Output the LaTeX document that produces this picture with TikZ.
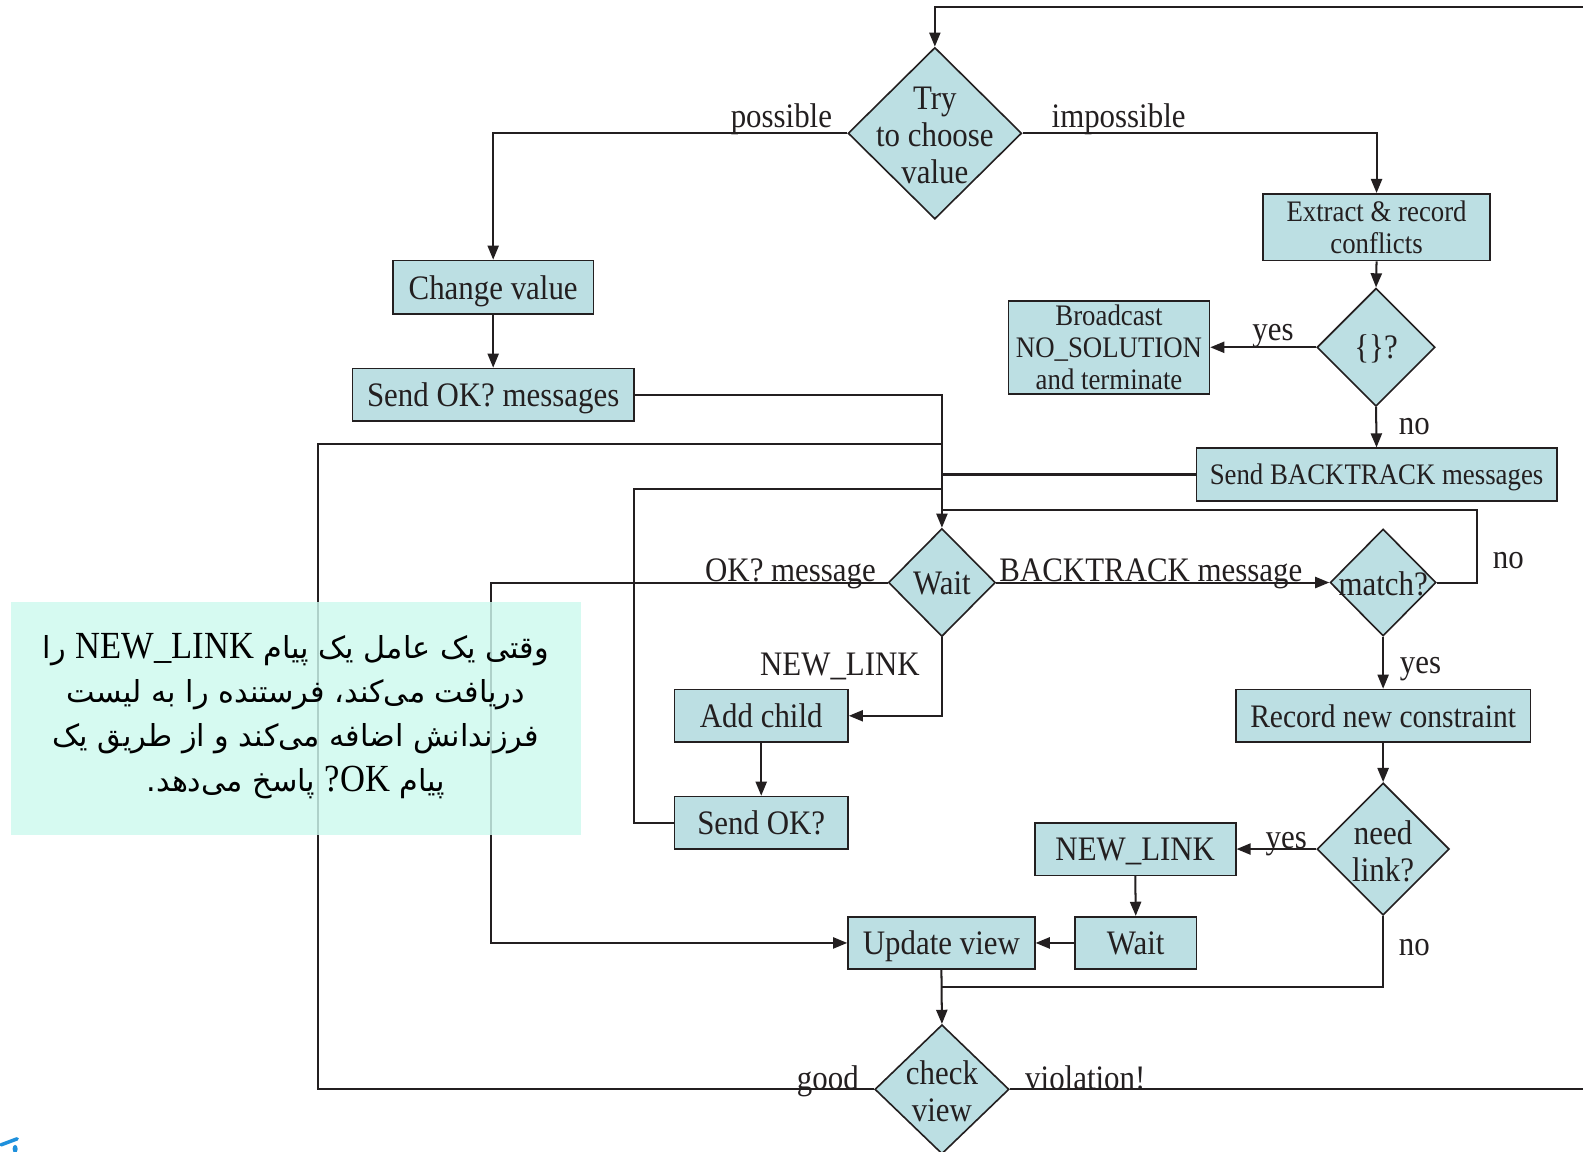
\documentclass[tikz,border=0pt]{standalone}
\usepackage{fontspec}
\setmainfont{Liberation Serif}[FakeStretch=0.9]
\newfontfamily\arabicfont[Script=Arabic]{DejaVu Sans}
\TeXXeTstate=1
\usetikzlibrary{arrows.meta,shapes.geometric}
\definecolor{boxc}{RGB}{188,223,227}
\definecolor{linec}{RGB}{35,31,32}
\definecolor{mint}{RGB}{205,249,239}
\definecolor{bluemark}{RGB}{30,144,220}
\newcommand\latinp{\rmfamily\fontsize{38}{44}\selectfont}
\tikzset{
 box/.style={draw=linec, fill=boxc, line width=1.6pt, inner sep=0pt, align=center, text=linec, text depth=0pt},
 dia/.style={diamond, draw=linec, fill=boxc, line width=1.6pt, inner sep=0pt},
 dtext/.style={align=center, inner sep=0pt, text=linec},
 conn/.style={draw=linec, line width=2pt},
 arr/.style={conn, -{Triangle[length=14pt,width=11pt]}},
 lbl/.style={inner sep=0pt, anchor=base, text=linec},
 smallf/.style={font=\fontsize{29.5}{31.5}\selectfont},
}
\begin{document}
\begin{tikzpicture}[x=1pt,y=-1pt,font=\fontsize{34}{37}\selectfont]
\useasboundingbox (0,0) rectangle (1568,1141);
\fill[white] (0,0) rectangle (1568,1141);

% decisions
\node[dia, minimum width=172, minimum height=170] (try) at (926,132) {};
\node[dtext] (trytx) at (926,134) {Try\\to choose\\value};
\node[dia, minimum width=117, minimum height=117] (empt) at (1363,344) {};
\node[dtext] (empttx) at (1363,346) {\{\}?};
\node[dia, minimum width=106, minimum height=107] (wait) at (933,577) {};
\node[dtext] (waittx) at (933,578) {Wait};
\node[dia, minimum width=105, minimum height=106] (match) at (1370,577) {};
\node[dtext] (matchtx) at (1370,578) {match?};
\node[dia, minimum width=131, minimum height=131] (need) at (1370,841) {};
\node[dtext] (needtx) at (1370,843) {need\\link?};
\node[dia, minimum width=133, minimum height=128] (chk) at (933,1079) {};
\node[dtext] (chktx) at (933,1081) {check\\view};

% boxes
\node[box, minimum width=199, minimum height=53] (chg) at (488.5,284.5) {Change value};
\node[box, minimum width=279, minimum height=52] (sok) at (488.5,391) {Send OK? messages};
\node[box, smallf, minimum width=225, minimum height=66] (ext) at (1363.5,225) {Extract \& record\\conflicts};
\node[box, smallf, minimum width=199, minimum height=92] (bcast) at (1098.5,344) {Broadcast\\NO\_SOLUTION\\and terminate};
\node[box, smallf, minimum width=357, minimum height=52] (sbt) at (1363.5,470) {Send BACKTRACK messages};
\node[box, minimum width=172, minimum height=52] (add) at (754,709) {Add child};
\node[box, minimum width=172, minimum height=52] (sok2) at (754,815) {Send OK?};
\node[box, font=\fontsize{32.5}{35}\selectfont, minimum width=292, minimum height=52] (rec) at (1370,709) {Record new constraint};
\node[box, minimum width=199, minimum height=52] (nl) at (1124.5,841) {NEW\_LINK};
\node[box, minimum width=120, minimum height=52] (wt2) at (1125,934) {Wait};
\node[box, minimum width=185, minimum height=52] (upd) at (932.5,934) {Update view};

% coordinates
\coordinate (topR) at (1568,7);
\coordinate (botR) at (1568,1079);
\coordinate (g1) at (315,440);
\coordinate (s1) at (628,484);
\coordinate (m1) at (1463,505);
\coordinate (o1) at (486,577);
\coordinate (n1) at (1370,978);

% connectors
\draw[arr] (topR) -- (topR -| try) -- (try.north);
\draw[arr] (try.west) -| (chg.north);
\draw[arr] (try.east) -| (ext.north);
\draw[arr] (ext.south) -- (empt.north);
\draw[arr] (empt.west) -- (bcast.east);
\draw[arr] (empt.south) -- (sbt.north);
\draw[arr] (chg.south) -- (sok.north);
\draw[arr] (sok.east) -| (wait.north);
\draw[conn] (sbt.west) -- (sbt.west -| wait);
\draw[conn] (chk.west) -| (g1) -- (g1 -| wait);
\draw[conn] (sok2.west) -| (s1) -- (s1 -| wait);
\draw[conn] (match.east) -| (m1) -- (m1 -| wait);
\draw[arr] (wait.west) -- (o1) |- (upd.west);
\draw[arr] (wait.east) -- (match.west);
\draw[arr] (wait.south) |- (add.east);
\draw[arr] (add.south) -- (sok2.north);
\draw[arr] (match.south) -- (rec.north);
\draw[arr] (rec.south) -- (need.north);
\draw[arr] (need.west) -- (nl.east);
\draw[arr] (nl.south) -- (wt2.north);
\draw[arr] (wt2.west) -- (upd.east);
\draw[conn] (need.south) -- (n1) -- (n1 -| upd);
\draw[arr] (upd.south) -- (chk.north);
\draw[conn] (chk.east) -- (botR);

% labels
\node[lbl] (l1) at (774,126) {possible};
\node[lbl] (l2) at (1108,126) {impossible};
\node[lbl] (l3) at (1261,337) {yes};
\node[lbl] (l4) at (1401,430) {no};
\node[lbl] (l5) at (783,576) {OK? message};
\node[lbl] (l6) at (1140,576) {BACKTRACK message};
\node[lbl] (l7) at (1494,563) {no};
\node[lbl] (l8) at (832,669) {NEW\_LINK};
\node[lbl] (l9) at (1407,667) {yes};
\node[lbl] (l10) at (1274,840) {yes};
\node[lbl] (l11) at (1401,946) {no};
\node[lbl] (l12) at (820,1079) {good};
\node[lbl] (l13) at (1075,1079) {violation!};

% note
\node[fill=mint, fill opacity=0.82, text opacity=1, minimum width=564, minimum height=231, inner sep=0pt] (note) at (293,711.5) {};
\node[align=center, inner sep=0pt, text=black, font=\arabicfont\fontsize{30}{44}\selectfont] (notetx) at (293,709) {%
\beginR وقتی یک عامل یک پیام {\latinp\beginL NEW\_LINK\endL} را\endR\\
\beginR دریافت می‌کند، فرستنده را به لیست\endR\\
\beginR فرزندانش اضافه می‌کند و از طریق یک\endR\\
\beginR پیام {\latinp\beginL OK\endL?} پاسخ می‌دهد.\endR};

% blue mark
\draw[bluemark, line width=3.5pt, line cap=round] (1,1134) -- (17,1128);
\fill[bluemark] (15,1138) ellipse (2.5 and 4);
\end{tikzpicture}
\end{document}
